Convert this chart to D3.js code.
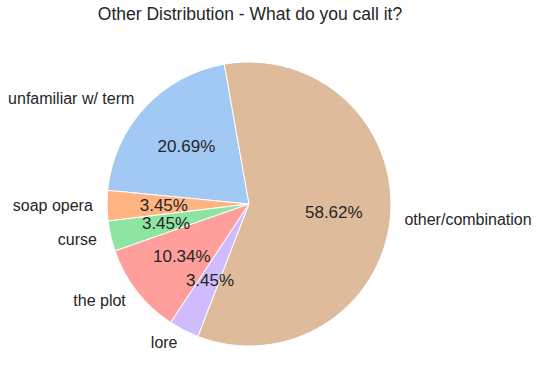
<!DOCTYPE html>
<html>
<head>
<meta charset="utf-8">
<script src="https://cdn.jsdelivr.net/npm/d3@7"></script>
<style>
  body { margin: 0; background: #fff; }
  text { font-family: "Liberation Sans", Arial, sans-serif; fill: #262626; }
</style>
</head>
<body>
<svg id="chart"></svg>
<script>
// Data (counts out of 29 responses)
const categories = ["unfamiliar w/ term", "soap opera", "curse", "the plot", "lore", "other/combination"];
const counts = [6, 1, 1, 3, 1, 17];
const colors = ["#a1c9f4", "#ffb482", "#8de5a1", "#ff9f9b", "#d0bbff", "#debb9b"];

const width = 540, height = 392;
const cx = 249, cy = 204, radius = 142;
const START_ANGLE = 100; // degrees, matplotlib style (ccw from +x)

const svg = d3.select("#chart").attr("width", width).attr("height", height);

svg.append("text")
  .attr("x", 250)
  .attr("y", 20)
  .attr("text-anchor", "middle")
  .style("font-size", "17.5px")
  .text("Other Distribution - What do you call it?");

// Convert matplotlib ccw angles to d3 clockwise-from-top angles
const toD3 = deg => (90 - deg) * Math.PI / 180;
const total = d3.sum(counts);

const pie = d3.pie()
  .sort(null)
  .value(d => d)
  .startAngle(toD3(START_ANGLE))
  .endAngle(toD3(START_ANGLE) - 2 * Math.PI);

const arcs = pie(counts);
const arc = d3.arc().innerRadius(0).outerRadius(radius);

const g = svg.append("g").attr("transform", "translate(" + cx + "," + cy + ")");

g.selectAll("path")
  .data(arcs)
  .enter()
  .append("path")
  .attr("d", arc)
  .attr("fill", (d, i) => colors[i])
  .attr("stroke", "#fff")
  .attr("stroke-width", 1);

const midPoint = (d, dist) => {
  let a = (d.startAngle + d.endAngle) / 2;
  return [Math.sin(a) * radius * dist, -Math.cos(a) * radius * dist];
};

// Category labels
g.selectAll("text.label")
  .data(arcs)
  .enter()
  .append("text")
  .attr("class", "label")
  .attr("x", d => midPoint(d, 1.1)[0])
  .attr("y", d => midPoint(d, 1.1)[1])
  .attr("dy", "0.35em")
  .attr("text-anchor", d => midPoint(d, 1.1)[0] < 0 ? "end" : "start")
  .style("font-size", "16px")
  .text((d, i) => categories[i]);

// Percent labels
g.selectAll("text.pct")
  .data(arcs)
  .enter()
  .append("text")
  .attr("class", "pct")
  .attr("x", d => midPoint(d, 0.6)[0])
  .attr("y", d => midPoint(d, 0.6)[1])
  .attr("dy", "0.35em")
  .attr("text-anchor", "middle")
  .style("font-size", "17px")
  .text(d => (d.value / total * 100).toFixed(2) + "%");
</script>
</body>
</html>
